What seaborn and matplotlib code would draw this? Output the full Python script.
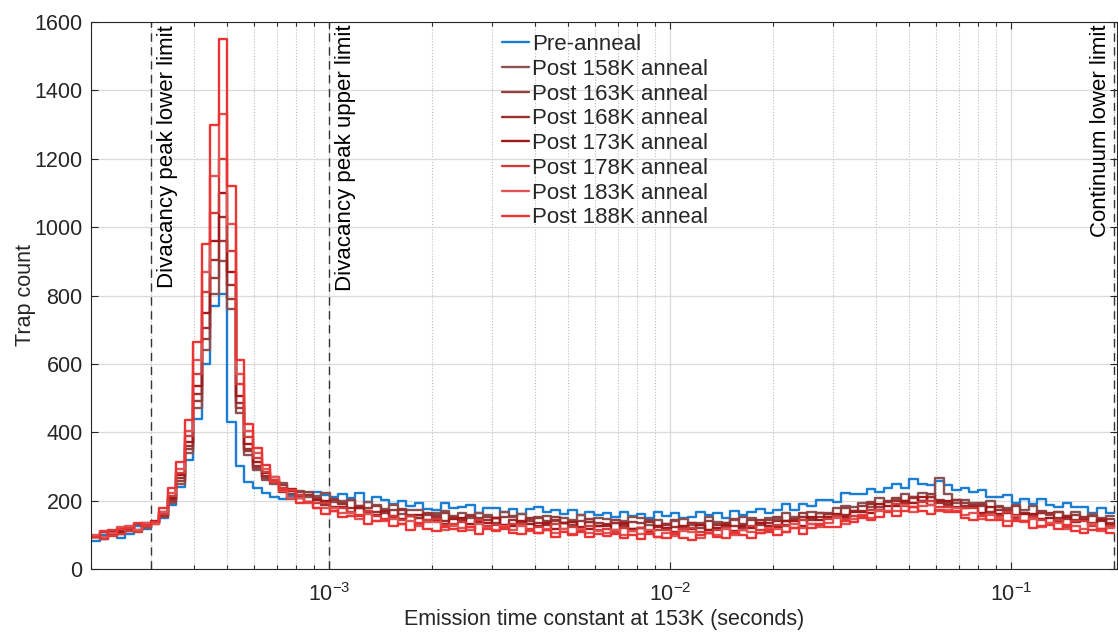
import numpy as np
import pandas as pd
import matplotlib
matplotlib.use("Agg")
import matplotlib.pyplot as plt
import matplotlib.ticker as mticker
import seaborn as sns

# ---------------- data ----------------
# histogram bins: 40 per decade between 2e-4 s and 0.2 s
t_min, t_max, n_bins = 2e-4, 0.2, 120
edges = np.logspace(np.log10(t_min), np.log10(t_max), n_bins + 1)

series_names = ["Pre-anneal", "Post 158K anneal", "Post 163K anneal", "Post 168K anneal",
                "Post 173K anneal", "Post 178K anneal", "Post 183K anneal", "Post 188K anneal"]
series_colors = ["#1a7fd2", "#8a5252", "#933f3f", "#9c2f2f", "#a31818", "#cf3c3c", "#e05454", "#ec3434"]

pre_anneal = [
    83, 99, 99, 92, 101, 125, 116, 134,
    148, 188, 240, 320, 440, 600, 770, 805, 430, 300, 255, 236, 222,
    212, 205, 214, 207, 216, 224, 217, 211, 218,
    209, 221, 196, 210, 201, 189, 198, 185, 193, 176,
    173, 192, 177, 182, 186, 165, 177, 179, 166, 175,
    161, 176, 180, 166, 174, 161, 173, 158, 168, 159,
    163, 152, 167, 154, 162, 148, 167, 156, 163, 150,
    152, 168, 157, 164, 148, 171, 159, 168, 175, 164,
    172, 190, 172, 191, 185, 203, 202, 196, 221, 220,
    218, 235, 225, 237, 248, 238, 264, 250, 246, 257,
    246, 230, 238, 224, 232, 210, 212, 215, 194, 204,
    189, 206, 188, 181, 192, 181, 181, 163, 179, 165]
post_158 = [
    93, 108, 99, 116, 114, 133, 120, 138,
    151, 194, 250, 338, 472, 640, 805, 900, 760, 455, 332, 290, 261,
    250, 252, 227, 229, 211, 213, 221, 197, 199,
    201, 185, 196, 186, 176, 187, 161, 174, 174, 158,
    163, 171, 156, 164, 149, 165, 158, 150, 166, 151,
    161, 140, 153, 156, 140, 148, 143, 158, 138, 149,
    146, 134, 140, 151, 148, 129, 144, 133, 140, 147,
    130, 134, 153, 137, 134, 144, 152, 150, 136, 148,
    146, 164, 151, 151, 167, 165, 164, 177, 185, 181,
    193, 182, 208, 196, 206, 219, 210, 222, 210, 265,
    219, 193, 202, 192, 183, 199, 183, 177, 186, 173,
    183, 165, 157, 168, 156, 166, 150, 162, 149, 155]
post_163 = [
    94, 107, 102, 115, 111, 132, 130, 135,
    158, 200, 258, 350, 492, 672, 852, 960, 790, 470, 345, 296, 266,
    258, 247, 218, 225, 226, 207, 197, 204, 193,
    201, 178, 178, 183, 163, 172, 175, 159, 150, 163,
    157, 165, 148, 144, 159, 149, 153, 136, 153, 156,
    138, 144, 150, 139, 153, 134, 130, 141, 146, 134,
    131, 142, 123, 138, 134, 142, 127, 130, 144, 124,
    135, 121, 139, 132, 127, 145, 132, 142, 130, 142,
    151, 140, 146, 165, 145, 163, 161, 159, 178, 171,
    183, 195, 180, 197, 208, 199, 212, 199, 220, 203,
    194, 203, 194, 183, 193, 168, 182, 173, 183, 164,
    159, 170, 160, 168, 146, 157, 146, 156, 139, 147]
post_168 = [
    94, 89, 110, 103, 117, 110, 135, 133,
    155, 205, 266, 360, 512, 705, 905, 1030, 830, 485, 352, 302, 272,
    268, 226, 229, 210, 217, 204, 187, 201, 189,
    177, 185, 166, 168, 170, 153, 173, 154, 148, 160,
    151, 139, 152, 142, 155, 137, 142, 148, 130, 143,
    131, 150, 135, 130, 144, 134, 137, 120, 138, 125,
    126, 136, 130, 117, 120, 137, 122, 131, 124, 117,
    134, 130, 113, 129, 134, 126, 120, 124, 142, 134,
    140, 128, 147, 153, 143, 153, 162, 157, 157, 171,
    169, 190, 174, 198, 198, 193, 208, 200, 210, 192,
    187, 203, 184, 186, 187, 163, 173, 173, 158, 165,
    149, 163, 165, 150, 156, 142, 152, 136, 145, 135]
post_173 = [
    97, 94, 111, 108, 124, 115, 129, 140,
    166, 208, 276, 372, 535, 750, 960, 1100, 870, 505, 365, 312, 280,
    257, 228, 234, 209, 196, 202, 200, 181, 182,
    164, 179, 171, 158, 170, 155, 146, 156, 159, 142,
    144, 132, 147, 149, 132, 140, 134, 149, 130, 125,
    141, 133, 125, 134, 118, 135, 137, 124, 117, 127,
    128, 115, 134, 117, 121, 111, 126, 121, 107, 127,
    116, 130, 114, 121, 128, 112, 127, 119, 135, 127,
    122, 139, 139, 126, 152, 142, 152, 162, 151, 168,
    166, 164, 189, 184, 183, 200, 193, 210, 187, 198,
    199, 180, 179, 182, 164, 181, 161, 164, 148, 161,
    160, 145, 149, 137, 153, 138, 143, 129, 142, 130]
post_178 = [
    95, 88, 113, 102, 112, 109, 130, 134,
    160, 214, 282, 388, 570, 810, 1040, 1200, 930, 540, 385, 325, 284,
    261, 236, 205, 217, 195, 193, 192, 171, 178,
    166, 155, 171, 156, 146, 156, 143, 155, 130, 142,
    145, 129, 132, 138, 123, 143, 125, 130, 116, 131,
    132, 118, 124, 113, 131, 117, 124, 111, 125, 114,
    118, 109, 120, 111, 121, 105, 113, 115, 102, 116,
    121, 108, 104, 114, 120, 108, 115, 125, 114, 109,
    128, 127, 121, 143, 131, 129, 146, 154, 145, 156,
    148, 172, 173, 170, 191, 183, 180, 195, 200, 182,
    182, 167, 178, 177, 157, 162, 154, 167, 146, 139,
    153, 144, 134, 142, 124, 140, 140, 126, 118, 127]
post_183 = [
    99, 93, 105, 122, 125, 113, 134, 132,
    168, 222, 292, 405, 610, 870, 1150, 1330, 1010, 570, 405, 340, 292,
    268, 228, 208, 208, 192, 178, 179, 177, 163,
    165, 145, 162, 140, 141, 147, 132, 139, 125, 138,
    137, 114, 127, 120, 114, 133, 119, 115, 126, 115,
    127, 110, 104, 116, 106, 117, 103, 116, 104, 111,
    105, 114, 99, 110, 102, 114, 95, 104, 97, 110,
    108, 92, 106, 100, 118, 98, 113, 107, 105, 121,
    118, 107, 132, 120, 133, 124, 134, 149, 133, 145,
    157, 150, 170, 170, 169, 187, 167, 185, 187, 170,
    173, 178, 159, 164, 146, 159, 150, 140, 154, 137,
    145, 123, 134, 136, 118, 125, 118, 132, 111, 121]
post_188 = [
    93, 110, 97, 118, 120, 135, 126, 138,
    178, 238, 312, 435, 665, 950, 1300, 1550, 1120, 610, 425, 355, 305,
    254, 232, 230, 192, 195, 178, 162, 169, 152,
    154, 157, 133, 140, 142, 126, 133, 115, 134, 118,
    111, 123, 118, 110, 123, 101, 117, 110, 122, 105,
    102, 114, 106, 115, 95, 107, 98, 109, 93, 102,
    96, 103, 92, 99, 89, 103, 95, 91, 104, 90,
    85, 98, 104, 94, 90, 104, 99, 91, 106, 115,
    100, 107, 119, 103, 121, 131, 122, 122, 139, 138,
    156, 142, 151, 166, 155, 171, 180, 169, 162, 174,
    166, 171, 150, 143, 155, 142, 144, 125, 140, 141,
    121, 126, 130, 118, 130, 110, 104, 114, 118, 105]

all_counts = [pre_anneal, post_158, post_163, post_168, post_173, post_178, post_183, post_188]

limit_positions = [3e-4, 1e-3, 0.2]
limit_labels = ["Divacancy peak lower limit", "Divacancy peak upper limit", "Continuum lower limit"]

# long table for seaborn: step lines drawn from bin edges
frames = []
for name, counts in zip(series_names, all_counts):
    frames.append(pd.DataFrame({
        "tau": edges,
        "count": list(counts) + [counts[-1]],
        "series": name,
    }))
df = pd.concat(frames, ignore_index=True)

# ---------------- style ----------------
sns.set_style("ticks")
plt.rcParams["font.family"] = ["Liberation Sans", "DejaVu Sans"]
plt.rcParams["mathtext.fontset"] = "custom"
plt.rcParams["mathtext.rm"] = "Liberation Sans"
plt.rcParams["mathtext.it"] = "Liberation Sans:italic"
plt.rcParams["mathtext.bf"] = "Liberation Sans:bold"
txt_col = "#262626"

fig = plt.figure(figsize=(11.18, 6.32), dpi=100)
ax = fig.add_axes([91 / 1118, 1 - 569 / 632, (1117 - 91) / 1118, (569 - 22) / 632])

sns.lineplot(data=df, x="tau", y="count", hue="series", hue_order=series_names,
             palette=series_colors, drawstyle="steps-post", estimator=None,
             errorbar=None, linewidth=1.7, ax=ax)

ax.set_xscale("log")
ax.set_xlim(2e-4, 0.204)
ax.set_ylim(0, 1600)
ax.set_yticks(np.arange(0, 1601, 200))
ax.xaxis.set_major_locator(mticker.LogLocator(base=10))
ax.xaxis.set_minor_locator(mticker.LogLocator(base=10, subs=np.arange(2, 10)))
ax.xaxis.set_minor_formatter(mticker.NullFormatter())

# grid like the original figure
ax.set_axisbelow(True)
ax.grid(True, which="major", color="#dadada", linewidth=0.9, linestyle="-")
ax.grid(True, which="minor", axis="x", color="#bcbcbc", linewidth=0.8, linestyle=":")

ax.tick_params(which="both", direction="in", top=True, right=True, colors=txt_col,
               labelsize=15.5, width=0.8)
ax.tick_params(which="major", length=5, pad=6)
ax.tick_params(axis="x", which="major", pad=10)
ax.tick_params(which="minor", length=3)
for sp in ax.spines.values():
    sp.set_color(txt_col)
    sp.set_linewidth(0.8)

# limit markers
for xpos, label in zip(limit_positions, limit_labels):
    ax.axvline(xpos, color="#333333", linestyle=(0, (6, 4)), linewidth=1.0, zorder=1.5)
    if xpos < 0.1:
        ax.annotate(label, xy=(xpos, 1), xycoords=("data", "axes fraction"),
                    xytext=(4, -2), textcoords="offset points", rotation=90,
                    ha="left", va="top", fontsize=16, color="black")
    else:
        ax.annotate(label, xy=(xpos, 1), xycoords=("data", "axes fraction"),
                    xytext=(-2, -2), textcoords="offset points", rotation=90,
                    ha="right", va="top", fontsize=16, color="black")

ax.set_xlabel("Emission time constant at 153K (seconds)", fontsize=15.5, color=txt_col)
ax.xaxis.set_label_coords(0.5, -0.074)
ax.set_ylabel("Trap count", fontsize=15.5, color=txt_col, labelpad=-1)

sns.move_legend(ax, loc="upper left", bbox_to_anchor=(0.401, 0.978), title=None,
                frameon=False, fontsize=16, handlelength=1.2, handletextpad=0.15,
                labelspacing=0.17, borderaxespad=0, borderpad=0)

fig.savefig("out.png", dpi=100)
plt.close(fig)
